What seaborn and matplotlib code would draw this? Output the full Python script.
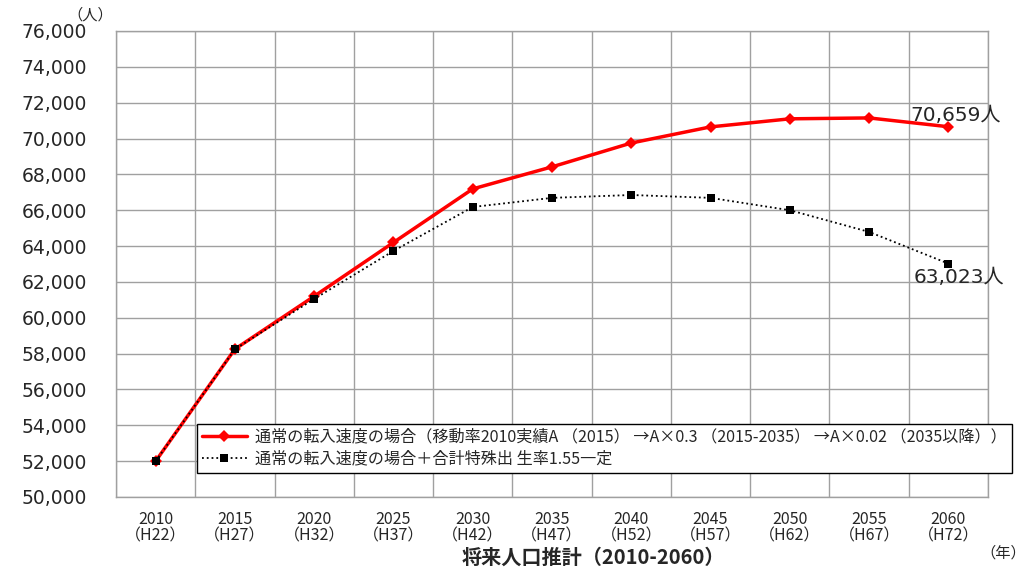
import numpy as np
import pandas as pd
import seaborn as sns
import matplotlib.pyplot as plt
from matplotlib.ticker import FuncFormatter, MultipleLocator, FixedLocator

# データ
years = ["2010", "2015", "2020", "2025", "2030", "2035", "2040", "2045", "2050", "2055", "2060"]
heisei = ["H22", "H27", "H32", "H37", "H42", "H47", "H52", "H57", "H62", "H67", "H72"]
normal_migration = [52000, 58250, 61200, 64200, 67190, 68420, 69750, 70650, 71100, 71150, 70659]
fertility_155 = [52000, 58250, 61050, 63730, 66180, 66690, 66850, 66690, 66000, 64790, 63023]

label_normal = "通常の転入速度の場合（移動率2010実績A （2015） →A×0.3 （2015-2035） →A×0.02 （2035以降））"
label_fert = "通常の転入速度の場合＋合計特殊出 生率1.55一定"

# 描画スタイル
sns.set_style("white")
plt.rcParams["font.family"] = ["Noto Sans CJK JP", "DejaVu Sans"]
plt.rcParams["axes.unicode_minus"] = False

grid_color = "#a0a0a0"
num_font = ["DejaVu Sans", "Noto Sans CJK JP"]

df = pd.DataFrame({
    "idx": np.arange(len(years)),
    "normal": normal_migration,
    "fert": fertility_155,
})

fig = plt.figure(figsize=(10.3, 5.69), dpi=100)
ax = fig.add_axes([116 / 1030, 1 - 497 / 569, (988 - 116) / 1030, (497 - 31) / 569])

sns.lineplot(data=df, x="idx", y="normal", ax=ax, color="#ff0000", linewidth=2.5,
             marker="D", markersize=6, markeredgewidth=0, label=label_normal, zorder=3)
sns.lineplot(data=df, x="idx", y="fert", ax=ax, color="black", linewidth=1.3,
             linestyle=":", marker="s", markersize=6, markeredgewidth=0, label=label_fert, zorder=4)

# 軸の設定
ax.set_xlim(-0.5, len(years) - 0.5)
ax.set_ylim(50000, 76000)
ax.yaxis.set_major_locator(MultipleLocator(2000))
ax.yaxis.set_major_formatter(FuncFormatter(lambda v, p: f"{int(v):,}"))
ax.xaxis.set_major_locator(FixedLocator(df["idx"]))
ax.set_xticklabels([f"{y}\n（{h}）" for y, h in zip(years, heisei)], fontsize=11.5, linespacing=1.0)
ax.xaxis.set_minor_locator(FixedLocator(np.arange(-0.5, len(years), 1.0)))
ax.tick_params(axis="x", which="major", length=0, pad=10)
ax.tick_params(axis="x", which="minor", length=7, color=grid_color, width=1)
ax.tick_params(axis="y", which="major", length=8, color=grid_color, width=1, pad=13, labelsize=13.5)
for t in ax.get_yticklabels():
    t.set_family(num_font)

ax.grid(True, axis="y", which="major", color=grid_color, linewidth=1)
ax.grid(True, axis="x", which="minor", color=grid_color, linewidth=1)
for s in ax.spines.values():
    s.set_color(grid_color)
    s.set_linewidth(1)
ax.set_xlabel("")
ax.set_ylabel("")

# 凡例
leg = ax.legend(loc="upper left", bbox_to_anchor=(197 / 1030, 1 - 424 / 569),
                bbox_transform=fig.transFigure, borderaxespad=0, fontsize=11.6,
                frameon=True, fancybox=False, framealpha=1, edgecolor="black",
                handlelength=2.8, handletextpad=0.5, labelspacing=0.3, borderpad=0.3)
leg.get_frame().set_linewidth(1)
leg.set_zorder(10)

# 最終値のラベル
ax.annotate(f"{normal_migration[-1]:,}人", xy=(10, normal_migration[-1]), xytext=(-38, 11),
            textcoords="offset pixels", ha="left", va="center", fontsize=14.5, family=num_font)
ax.annotate(f"{fertility_155[-1]:,}人", xy=(10, fertility_155[-1]), xytext=(-35, -14),
            textcoords="offset pixels", ha="left", va="center", fontsize=14.5, family=num_font)

# 単位・タイトル
fig.text(90 / 1030, 1 - 15 / 569, "（人）", ha="center", va="center", fontsize=11)
fig.text(1003 / 1030, 1 - 553 / 569, "（年）", ha="center", va="center", fontsize=11)
fig.text(593 / 1030, 1 / 569, "将来人口推計（2010-2060）", ha="center", va="bottom",
         fontsize=14.5, fontweight="bold")

fig.savefig("out.png", dpi=100)
